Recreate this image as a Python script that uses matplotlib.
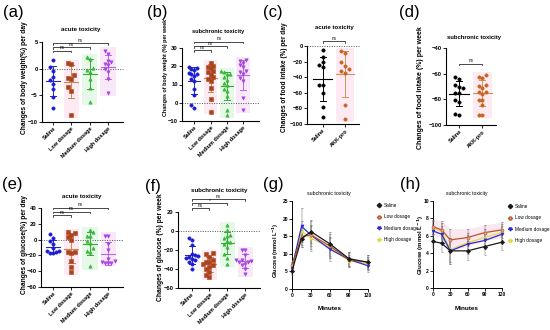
import numpy as np
import matplotlib
matplotlib.use("Agg")
import matplotlib.pyplot as plt
from matplotlib.patches import Rectangle
from matplotlib.lines import Line2D

plt.rcParams['font.family'] = ['Liberation Sans', 'DejaVu Sans']
NARROW = ['Liberation Sans Narrow', 'Liberation Sans', 'DejaVu Sans']

W, H = 550, 330

# ---- data -------------------------------------------------------------
dose_groups = ['Saline', 'Low dosage', 'Medium dosage', 'High dosage']
akk_groups = ['Saline', 'AKK-pro']

# (a) body weight change per day
bw_day_saline = [1.7, 0.3, -0.5, -1.5, -2.2, -2.8, -3.8, -5.3, -7.3]
bw_day_low = [1.0, 0.9, -1.2, -1.8, -2.0, -3.4, -4.2, -8.6]
bw_day_medium = [2.1, 1.9, 0.2, -0.3, -0.6, -2.0, -3.7, -6.2]
bw_day_high = [3.4, 2.7, 1.5, 1.25, 0.9, 0.6, 0.0, -0.6, -2.0, -4.6]

# (b) body weight change per week
bw_week_saline = [19.5, 19.0, 18.5, 18.0, 16.5, 16.0, 15.5, 14.5, 13.0, 12.0, 7.3, 4.5, -1.0, -3.0]
bw_week_low = [22.0, 20.3, 19.4, 19.0, 17.5, 16.6, 15.3, 14.3, 12.8, 12.0, 8.2, 2.0, -4.8]
bw_week_medium = [17.5, 17.0, 16.0, 15.5, 14.3, 12.5, 11.0, 10.0, 7.8, 6.7, 3.5, -3.9, -6.7]
bw_week_high = [23.5, 23.0, 22.0, 20.5, 19.5, 17.5, 16.6, 15.7, 13.4, 12.0, 2.6, -4.0]

# (c) food intake change per day
food_day_saline = [-5.6, -14, -21, -24, -27, -50, -50, -60.5, -78.5, -91.4]
food_day_akk = [-7, -8.5, -20.6, -25, -30, -32.6, -34, -76, -93.5]

# (d) food intake change per week
food_week_saline = [-62.7, -64, -68.7, -70.5, -71.3, -74.7, -74.7, -80.5, -81.7, -92.2, -91.4]
food_week_akk = [-61, -62.7, -63.5, -68.7, -69.6, -71.3, -74, -74, -76, -80.5, -80.5, -84.4, -92.2, -92.2]

# (e) glucose change per day
glu_day_saline = [6.5, 2.5, -2, -5, -11, -14, -15, -16, -16.5, -17.2]
glu_day_low = [9.5, 8.0, 5.8, 3.8, -0.5, -16, -17, -16, -27.6, -35, -41.4]
glu_day_medium = [12, 10, 5, 4.6, -1.7, -4.6, -11, -14, -16, -34]
glu_day_high = [5, 4, -5, -13, -24, -27, -28, -29, -30, -29.5]

# (f) glucose change per week
glu_week_saline = [-7.5, -9, -15, -24, -25, -27.4, -29, -30, -32.6, -34.4, -39.6, -28, -26]
glu_week_low = [-22.8, -23.9, -27.4, -30.9, -32.6, -33, -36, -37.9, -39.6, -43, -46, -48.4, -35]
glu_week_medium = [6, 0.7, -4.6, -5.6, -7.4, -10.9, -14, -16.5, -23.9, -28.4, -34.4, -12]
glu_week_high = [-19.6, -19.6, -24.9, -30.2, -31.9, -32.6, -34.4, -36, -39.6, -44.9, -33, -31]

# significance brackets: (group i, group j, y, label)
sig_a = [(0, 3, 4.8, 'ns'), (0, 2, 4.05, 'ns'), (0, 1, 3.4, 'ns')]
sig_b = [(0, 3, 33.4, 'ns'), (0, 2, 31.0, 'ns'), (0, 1, 28.7, 'ns')]
sig_c = [(0, 1, 6.4, 'ns')]
sig_d = [(0, 1, -52.3, 'ns')]
sig_e = [(0, 3, 40.2, 'ns'), (0, 2, 35.1, 'ns'), (0, 1, 31.0, 'ns')]
sig_f = [(0, 3, 33.5, 'ns'), (0, 2, 29.0, '*'), (0, 1, 24.2, 'ns')]

# (g) / (h) glucose time course
minutes = [0, 15, 30, 60, 90, 120]
g_saline = [5.1, 14.3, 16.3, 12.8, 8.6, 7.6]
g_low = [6.8, 14.9, 15.4, 12.2, 8.3, 7.6]
g_medium = [5.9, 17.8, 15.3, 11.3, 8.4, 6.6]
g_high = [6.6, 16.4, 14.4, 11.8, 8.0, 7.2]
g_saline_sd = [1.0, 2.5, 3.2, 3.3, 2.0, 2.0]
g_low_sd = [1.0, 3.0, 4.0, 3.5, 2.0, 2.0]
g_medium_sd = [1.0, 5.2, 3.0, 3.3, 2.0, 1.8]
g_high_sd = [1.0, 3.0, 3.5, 3.0, 1.8, 1.8]

h_saline = [5.35, 5.15, 4.27, 4.27, 4.77, 5.27]
h_low = [7.06, 6.68, 5.53, 5.8, 6.37, 6.68]
h_medium = [6.56, 6.18, 4.27, 5.04, 5.46, 6.18]
h_high = [6.9, 6.5, 4.4, 5.2, 5.8, 6.4]
h_saline_sd = [0.8, 1.0, 1.5, 1.1, 1.0, 0.9]
h_low_sd = [0.8, 1.0, 1.3, 1.0, 0.9, 0.9]
h_medium_sd = [0.8, 1.0, 1.5, 1.1, 1.0, 0.9]
h_high_sd = [0.8, 1.0, 1.4, 1.1, 1.0, 0.9]

# ---- styles -----------------------------------------------------------
DOSE_STYLE = [
    dict(marker='o', color='#1c1cd6', edge='#1c1cd6', line='#2a2ab0', bg=None),
    dict(marker='s', color='#9c4a1e', edge='#c83a1e', line='#c58a55', bg='#feeaf2'),
    dict(marker='^', color='#37c037', edge='#2fae2f', line='#3aa83a', bg='#e6f8e8'),
    dict(marker='v', color='#b046e8', edge='#a040d8', line='#b46ae0', bg='#f9e8f8'),
]
AKK_STYLE = [
    dict(marker='o', color='black', edge='black', line='black', bg=None),
    dict(marker='o', color='#c8641e', edge='#c8641e', line='#c8965f', bg='#feeaf2'),
]
LINE_STYLE = [
    dict(color='#1a1a1a', marker='D', mfc='#1a1a1a'),
    dict(color='#b5562a', marker='o', mfc='#e8a27a'),
    dict(color='#2b2bd0', marker='v', mfc='#2b2bd0'),
    dict(color='#e0d84a', marker='^', mfc='#e0d84a'),
]

fig = plt.figure(figsize=(W / 100, H / 100), dpi=100)


def add_ax(l, t, r, b):
    return fig.add_axes([l / W, 1 - b / H, (r - l) / W, (b - t) / H])


def ftext(x, y, s, **kw):
    fig.text(x / W, 1 - y / H, s, ha='center', va='center', **kw)


def swarm(vals, step, dy):
    vals = np.asarray(vals, float)
    offs = np.zeros(len(vals))
    placed = []
    for i in np.argsort(vals):
        for k in [0, -1, 1, -2, 2, -3, 3]:
            o = k * step
            if all(abs(o - po) > step * 0.9 or abs(vals[i] - pv) > dy for po, pv in placed):
                break
        offs[i] = o
        placed.append((o, vals[i]))
    return offs


def style_axis(ax, lw=0.8):
    for s in ['top', 'right']:
        ax.spines[s].set_visible(False)
    for s in ['left', 'bottom']:
        ax.spines[s].set_linewidth(lw)
    ax.tick_params(length=2, width=0.6, pad=1)


def catplot(ax, groups, data, styles, ylim, yticks, xlim, sigs, zero=True,
            step=0.17, mean_hw=0.38, cap_hw=0.17):
    rng = ylim[1] - ylim[0]
    bbox = ax.get_position()
    dy = rng * 4.5 / (bbox.height * H)
    for i, (vals, st) in enumerate(zip(data, styles)):
        vals = np.asarray(vals, float)
        if st['bg']:
            pad = 0.04 * rng
            ax.add_patch(Rectangle((i - 0.42, vals.min() - pad), 0.84,
                                   vals.max() - vals.min() + 2 * pad,
                                   color=st['bg'], lw=0, zorder=0))
        xs = i + swarm(vals, step, dy)
        ax.plot(xs, vals, ls='none', marker=st['marker'], ms=2.4,
                mfc=st['color'], mec=st['edge'], mew=0.4, zorder=3)
        m, sd = vals.mean(), vals.std(ddof=1)
        ax.plot([i - mean_hw, i + mean_hw], [m, m], color=st['line'], lw=0.8, zorder=2)
        ax.plot([i, i], [m - sd, m + sd], color=st['line'], lw=0.7, zorder=2)
        for yy in (m - sd, m + sd):
            ax.plot([i - cap_hw, i + cap_hw], [yy, yy], color=st['line'], lw=0.7, zorder=2)
    if zero:
        ax.axhline(0, color='#555555', ls=(0, (1, 1.5)), lw=0.7, zorder=1, clip_on=False)
    t = 0.02 * rng
    for i, j, y, lab in sigs:
        ax.plot([i, i, j, j], [y - t, y, y, y - t], color='black', lw=0.5, clip_on=False)
        ax.text((i + j) / 2, y + 0.005 * rng, lab, ha='center', va='bottom',
                fontsize=3.3, clip_on=False)
    ax.set_xlim(*xlim)
    ax.set_ylim(*ylim)
    ax.set_yticks(yticks)
    ax.set_xticks(range(len(groups)))
    ax.set_xticklabels(groups, rotation=45, ha='right', rotation_mode='anchor',
                       fontsize=4, fontweight='bold')
    for lab in ax.get_yticklabels():
        lab.set_fontsize(4.2)
        lab.set_fontweight('bold')
    style_axis(ax)


def lineplot(ax, series, sds, ylim, yticks, band=None):
    if band is not None:
        y, sd = np.asarray(band[0]), np.asarray(band[1])
        ax.fill_between(minutes, y - sd, y + sd, color='#fce6ef', lw=0, zorder=0)
    for ys, sd, st in reversed(list(zip(series, sds, LINE_STYLE))):
        ax.errorbar(minutes, ys, yerr=sd, color=st['color'], marker=st['marker'],
                    mfc=st['mfc'], mec=st['color'], ms=2.2, mew=0.4, lw=0.9,
                    ecolor='#6a6a6a', elinewidth=0.35, capsize=1.0, capthick=0.35,
                    clip_on=False, zorder=3)
    ax.set_xlim(0, 120)
    ax.set_ylim(*ylim)
    ax.set_xticks([0, 30, 60, 90, 120])
    ax.set_yticks(yticks)
    for lab in ax.get_xticklabels() + ax.get_yticklabels():
        lab.set_fontsize(3.5)
        lab.set_family(NARROW)
        lab.set_fontweight('bold')
    style_axis(ax, lw=0.7)


def add_legend(ax, x, y):
    handles = [Line2D([0], [0], color=st['color'], marker=st['marker'], mfc=st['mfc'],
                      mec=st['color'], ms=2.2, lw=0.8) for st in LINE_STYLE]
    leg = ax.legend(handles, dose_groups, loc='upper left',
                    bbox_to_anchor=(x / W, 1 - y / H), bbox_transform=fig.transFigure,
                    frameon=False, handlelength=0.9, handletextpad=0.5,
                    labelspacing=1.35, borderpad=0, borderaxespad=0,
                    prop={'family': NARROW, 'size': 3.4})
    return leg


# ---- panels -----------------------------------------------------------
ax_a = add_ax(42, 42, 123, 122)
catplot(ax_a, dose_groups, [bw_day_saline, bw_day_low, bw_day_medium, bw_day_high],
        DOSE_STYLE, (-10, 5), [-10, -5, 0, 5], (-0.6, 3.82), sig_a)

ax_b = add_ax(182, 48, 259, 121)
catplot(ax_b, dose_groups, [bw_week_saline, bw_week_low, bw_week_medium, bw_week_high],
        DOSE_STYLE, (-10, 30), [-10, 0, 10, 20, 30], (-0.75, 3.97), sig_b)

ax_c = add_ax(307, 46, 359, 124)
catplot(ax_c, akk_groups, [food_day_saline, food_day_akk], AKK_STYLE,
        (-100, 0), [-100, -80, -60, -40, -20, 0], (-0.7, 1.63), sig_c,
        step=0.16, mean_hw=0.41, cap_hw=0.13)

ax_d = add_ax(446, 48, 496, 125)
catplot(ax_d, akk_groups, [food_week_saline, food_week_akk], AKK_STYLE,
        (-100, -40), [-100, -80, -60, -40], (-0.56, 1.59), sig_d, zero=False,
        step=0.16, mean_hw=0.41, cap_hw=0.13)

ax_e = add_ax(41, 208, 123, 287)
catplot(ax_e, dose_groups, [glu_day_saline, glu_day_low, glu_day_medium, glu_day_high],
        DOSE_STYLE, (-60, 40), [-60, -40, -20, 0, 20, 40], (-0.65, 3.8), sig_e)

ax_f = add_ax(178, 212, 260, 288)
catplot(ax_f, dose_groups, [glu_week_saline, glu_week_low, glu_week_medium, glu_week_high],
        DOSE_STYLE, (-60, 20), [-60, -40, -20, 0, 20], (-0.77, 3.84), sig_f)

ax_g = add_ax(292, 201, 368, 289)
lineplot(ax_g, [g_saline, g_low, g_medium, g_high],
         [g_saline_sd, g_low_sd, g_medium_sd, g_high_sd], (0, 25), [0, 5, 10, 15, 20, 25])
add_legend(ax_g, 377, 203)

ax_h = add_ax(433, 201, 502, 288)
lineplot(ax_h, [h_saline, h_low, h_medium, h_high],
         [h_saline_sd, h_low_sd, h_medium_sd, h_high_sd], (0, 10), [0, 2, 4, 6, 8, 10],
         band=(h_low, h_low_sd))
add_legend(ax_h, 508, 204)

# ---- titles, axis labels, panel letters --------------------------------
for x, y, s, fs in [(81, 29, 'acute toxicity', 4.4), (218, 32, 'subchronic toxicity', 4.1),
                    (334, 27, 'acute toxicity', 4.3), (474, 37, 'subchronic toxicity', 4.2),
                    (82, 196, 'acute toxicity', 4.4), (219, 191, 'subchronic toxicity', 4.4)]:
    ftext(x, y, s, fontsize=fs, fontweight='bold')
ftext(329, 194, 'subchronic toxicity', fontsize=3.8, family=NARROW)
ftext(467, 194, 'subchronic toxicity', fontsize=3.6, family=NARROW)

for x, y, s, fs in [(24, 78, 'Changes of body weight(%) per day', 4.8),
                    (165, 67, 'Changes of body weight (%) per week', 3.9),
                    (285, 77, 'Changes of food intake (%) per day', 4.7),
                    (420, 88, 'Changes of food intake (%) per week', 5.0),
                    (24, 245, 'Changes of glucose(%) per day', 4.8),
                    (160, 247, 'Changes of glucose (%) per week', 4.9),
                    (276, 250, r'Glucose (mmol L$^{\mathbf{-1}}$)', 4.1),
                    (421, 245, r'Glucose (mmol L$^{\mathbf{-1}}$)', 4.4)]:
    ftext(x, y, s, fontsize=fs, fontweight='bold', rotation=90)

ftext(330, 309, 'Minutes', fontsize=4.6, family=NARROW, fontweight='bold')
ftext(467, 308, 'Minutes', fontsize=4.6, family=NARROW, fontweight='bold')

for x, y, s in [(13, 12, '(a)'), (157, 12, '(b)'), (273, 12, '(c)'), (409, 12, '(d)'),
                (12, 185, '(e)'), (153, 186, '(f)'), (273, 185, '(g)'), (410, 185, '(h)')]:
    ftext(x, y, s, fontsize=12)

fig.savefig('out.png', dpi=100)
